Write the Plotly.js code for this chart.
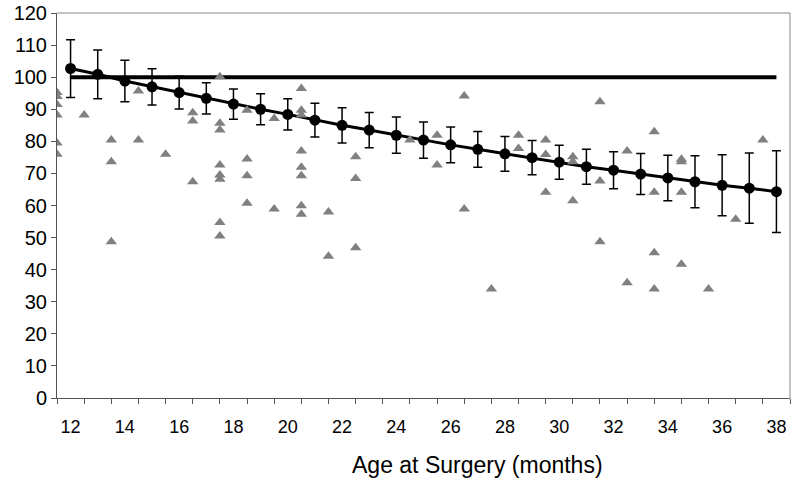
<!DOCTYPE html>
<html>
<head>
<meta charset="utf-8">
<script src="https://cdn.plot.ly/plotly-3.0.1.min.js"></script>
<style>html,body{margin:0;padding:0;background:#fff;}#chart{width:800px;height:481px;}</style>
</head>
<body>
<div id="chart"></div>
<script>
// Mean curve (months 12..38) with error bar half-widths
const ages = [12,13,14,15,16,17,18,19,20,21,22,23,24,25,26,27,28,29,30,31,32,33,34,35,36,37,38];
const meanScore = [102.7,100.9,98.8,97.0,95.2,93.4,91.6,90.0,88.4,86.6,85.0,83.5,81.9,80.4,78.9,77.5,76.1,74.9,73.5,72.1,71.0,69.8,68.6,67.4,66.3,65.4,64.3];
const errHalf = [9.0,7.6,6.5,5.65,5.1,4.85,4.7,4.85,4.9,5.25,5.5,5.5,5.65,5.65,5.6,5.55,5.4,5.35,5.3,5.45,5.75,6.4,7.1,8.1,9.5,10.95,12.75];

// Reference line at 100
const refX = [12, 38];
const refY = [100, 100];

// Individual scores (gray triangles)
const indivAge = [
  12,12,12,12,12,12,
  13,
  14,14,14,
  15,15,
  16,
  17,17,17,
  18,18,18,18,18,18,18,18,
  19,19,19,19,
  20,20,
  21,21,21,21,21,21,21,21,
  22,22,
  23,23,23,
  25,
  26,26,
  27,27,
  28,
  29,29,
  30,30,30,
  31,31,31,
  32,32,32,
  33,33,
  34,34,34,34,
  35,35,35,35,
  36,
  37,
  38
];
const indivScore = [
  95.2,94.0,91.5,88.2,79.5,76.0,
  88.2,
  80.4,73.6,48.7,
  95.7,80.4,
  76.0,
  88.9,86.3,67.4,
  100.1,85.6,83.5,72.6,69.5,68.2,54.7,50.5,
  89.7,74.5,69.3,60.7,
  87.1,58.9,
  96.5,89.7,88.2,77.0,71.9,69.3,59.9,57.3,
  58.0,44.2,
  75.2,68.4,46.8,
  80.4,
  81.9,72.6,
  94.1,58.9,
  34.0,
  81.9,77.8,
  80.4,75.9,64.1,
  75.2,73.6,61.5,
  92.3,67.6,48.7,
  77.0,35.9,
  83.0,64.1,45.3,34.0,
  74.4,73.6,64.1,41.7,
  34.0,
  55.7,
  80.4
];

const xTickVals = [12,14,16,18,20,22,24,26,28,30,32,34,36,38];
const yTickVals = [0,10,20,30,40,50,60,70,80,90,100,110,120];
const xTitle = 'Age at Surgery (months)';

const FONT = 'Arial, "Liberation Sans", sans-serif';

const traces = [
  {
    x: refX, y: refY, type: 'scatter', mode: 'lines',
    line: {color: '#000', width: 4}, hoverinfo: 'skip', showlegend: false
  },
  {
    x: ages, y: meanScore, type: 'scatter', mode: 'lines+markers',
    line: {color: '#000', width: 3},
    marker: {color: '#000', size: 11, symbol: 'circle'},
    error_y: {type: 'data', array: errHalf, visible: true, color: '#000', thickness: 1.5, width: 4.5},
    showlegend: false
  },
  {
    x: indivAge, y: indivScore, type: 'scatter', mode: 'markers', xaxis: 'x2',
    marker: {color: '#808080', size: 10, symbol: 'triangle-up'},
    showlegend: false
  }
];

const layout = {
  width: 800, height: 481,
  margin: {l: 57, r: 10, t: 13, b: 83},
  paper_bgcolor: '#fff', plot_bgcolor: '#fff',
  font: {family: FONT, color: '#000'},
  showlegend: false,
  xaxis: {
    range: [11.5, 38.5], tickmode: 'array', tickvals: xTickVals,
    ticks: '', showgrid: false, zeroline: false,
    showline: true, linecolor: '#555', linewidth: 1,
    tickfont: {family: FONT, size: 18, color: '#000'},
    ticklabelstandoff: 12,
    minor: {tick0: 11.5, dtick: 1, ticks: 'outside', ticklen: 5, tickcolor: '#555', tickwidth: 1, showgrid: false}
  },
  xaxis2: {
    range: [12, 39], overlaying: 'x', anchor: 'y', visible: false,
    showgrid: false, zeroline: false
  },
  yaxis: {
    range: [0, 120], tickmode: 'array', tickvals: yTickVals,
    ticks: 'outside', ticklen: 5, tickcolor: '#555', tickwidth: 1,
    showgrid: false, zeroline: false,
    showline: true, linecolor: '#555', linewidth: 1,
    tickfont: {family: FONT, size: 20, color: '#000'}
  },
  shapes: [
    {type: 'line', xref: 'paper', yref: 'paper', x0: 0, x1: 1, y0: 1, y1: 1, line: {color: '#888', width: 1}},
    {type: 'line', xref: 'paper', yref: 'paper', x0: 1, x1: 1, y0: 0, y1: 1, line: {color: '#888', width: 1}}
  ],
  annotations: [
    {text: xTitle, xref: 'paper', yref: 'paper', x: 0.573, y: -0.174,
     xanchor: 'center', yanchor: 'middle', showarrow: false,
     font: {family: FONT, size: 23, color: '#000'}}
  ]
};

Plotly.newPlot('chart', traces, layout, {displayModeBar: false, staticPlot: true});
</script>
</body>
</html>
